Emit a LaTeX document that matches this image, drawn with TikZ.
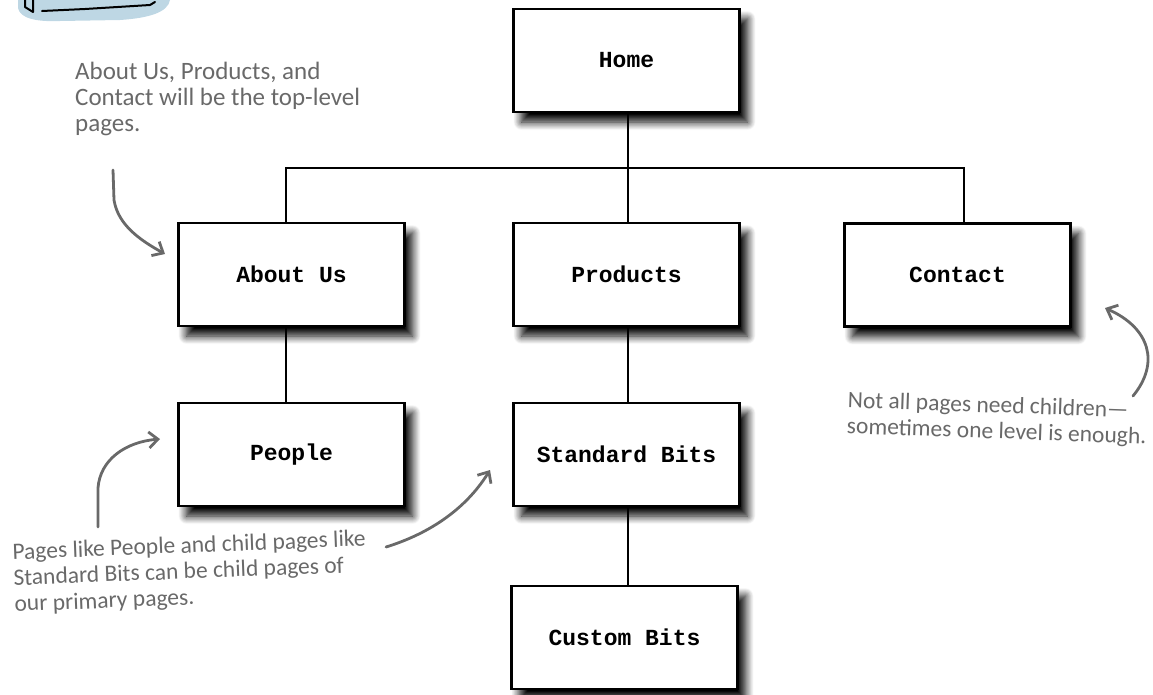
\documentclass[tikz,border=0pt]{standalone}
\usepackage{fontspec}
\setmonofont{Liberation Mono}
\newfontfamily\handfont{Carlito}
\usetikzlibrary{shadows.blur,arrows.meta}
\definecolor{notegray}{RGB}{105,105,105}
\definecolor{sketchblue}{RGB}{190,215,228}
\tikzset{
 page/.style={draw=black, line width=2.4pt, fill=white, minimum width=226pt, minimum height=103pt, inner sep=0pt,
   font=\ttfamily\bfseries\fontsize{23}{26}\selectfont,
   blur shadow={shadow xshift=8pt, shadow yshift=-10pt, shadow blur radius=8pt, shadow blur steps=14, shadow opacity=100}},
 link/.style={line width=2pt, black},
 note/.style={text=notegray, align=left, inner sep=0pt},
 pointer/.style={draw=notegray, line width=2.8pt, line cap=round, -{Straight Barb[length=9pt,width=16pt]}},
}
\begin{document}
\begin{tikzpicture}[x=1pt,y=-1pt]
\useasboundingbox (0,0) rectangle (1153,694);
% cut-off sketch in the corner
\fill[sketchblue] (18,0) -- (170,0) .. controls (168,12) and (150,18) .. (120,20) -- (60,21) .. controls (35,22) and (20,18) .. (18,8) -- cycle;
\draw[line width=2pt, line cap=round, line join=round] (25,0) -- (25,7) -- (33,12) -- (33,0);
\draw[line width=2pt, line cap=round] (42,11) -- (85,9) -- (150,5) -- (155,2);

\node[page] (home) at (626.5,60.5) {Home};
\node[page] (about) at (291.5,274.5) {About Us};
\node[page] (products) at (626.5,274.5) {Products};
\node[page] (contact) at (957.5,275) {Contact};
\node[page] (people) at (291.5,454.5) {People};
\node[page] (standard) at (626.5,454.5) {Standard Bits};
\node[page] (custom) at (624.5,637.5) {Custom Bits};

\coordinate (bus) at (628,168);
\draw[link] (home.south -| bus) -- (bus);
\draw[link] ([xshift=-6pt]about.north) |- (bus) -| ([xshift=6pt]contact.north);
\draw[link] (bus) -- (bus |- products.north);
\draw[link] ([xshift=-6pt]about.south) -- ([xshift=-6pt]people.north);
\draw[link] (products.south -| bus) -- (standard.north -| bus);
\draw[link] (standard.south -| bus) -- (custom.north -| bus);

\node[note, anchor=north west, font=\handfont\fontsize{25}{26}\selectfont] (n1) at (75,62) {About Us, Products, and\\Contact will be the top-level\\pages.};
\node[note, anchor=north west, rotate=-2, font=\handfont\fontsize{23.5}{26}\selectfont] (n2) at (848,391) {Not all pages need children—\\sometimes one level is enough.};
\node[note, anchor=north west, rotate=2.2, font=\handfont\fontsize{23.5}{26}\selectfont] (n3) at (12,543) {Pages like People and child pages like\\Standard Bits can be child pages of\\our primary pages.};

\coordinate (a1s) at (113,170); \coordinate (a1e) at (165,254);
\draw[pointer] (a1s) -- (114,200) .. controls (118,225) and (140,240) .. (a1e);
\coordinate (a2s) at (98,527); \coordinate (a2e) at (160,439);
\draw[pointer] (a2s) -- (98,488) .. controls (100,460) and (125,442) .. (a2e);
\coordinate (a3s) at (386,547); \coordinate (a3e) at (490,470);
\draw[pointer] (a3s) .. controls (425,535) and (464,512) .. (a3e);
\coordinate (a4s) at (1133,396); \coordinate (a4e) at (1105,308);
\draw[pointer] (a4s) .. controls (1160,363) and (1150,328) .. (a4e);
\end{tikzpicture}
\end{document}
